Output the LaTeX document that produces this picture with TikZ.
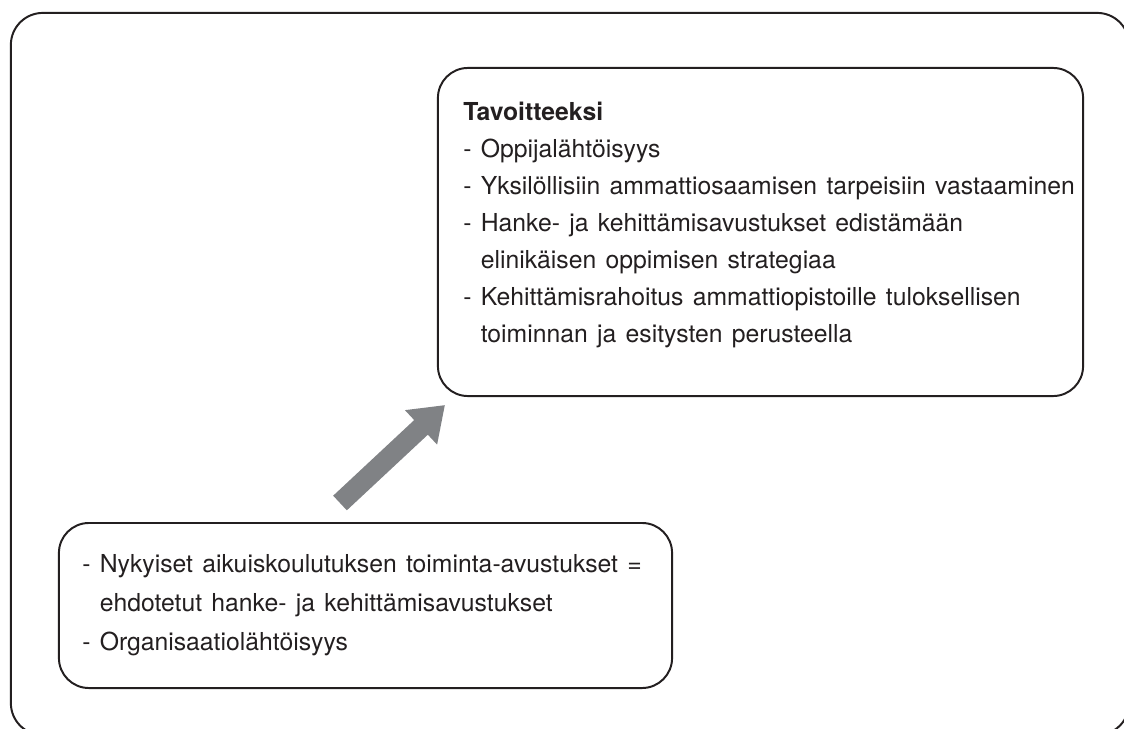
\documentclass[tikz,border=0pt]{standalone}
\usepackage{fontspec}
\setmainfont[WordSpace=1.35]{TeX Gyre Heros}
\usetikzlibrary{arrows.meta}

\definecolor{arrowgray}{HTML}{808285}
\definecolor{inkline}{HTML}{231F20}
\tikzset{
  panel/.style={draw=inkline, line width=1.4pt, rounded corners=0.75cm},
  textline/.style={anchor=base west, inner sep=0pt, text=inkline, font=\fontsize{17.6}{20}\selectfont},
  bigarrow/.style={draw=arrowgray, line width=0.5cm, -{Triangle[length=0.82cm,width=1.12cm]}}
}

\begin{document}
\begin{tikzpicture}[x=0.025cm, y=-0.025cm]
\useasboundingbox (0,0) rectangle (1124,729);

%% frames
\node[panel, rounded corners=0.8cm, minimum width=27.95cm, minimum height=18.05cm] (frame) at (570,374) {};
\node[panel, minimum width=16.125cm, minimum height=8.2cm] (goals) at (760.5,232) {};
\node[panel, minimum width=15.325cm, minimum height=4.125cm] (now) at (365.5,605.5) {};

%% goals text
\node[textline] (g0) at (463,120) {\bfseries Tavoitteeksi};
\node[textline] (g1) at (463,157) {- Oppijalähtöisyys};
\node[textline] (g2) at (463,194) {- Yksilöllisiin ammattiosaamisen tarpeisiin vastaaminen};
\node[textline] (g3) at (463,231) {- Hanke- ja kehittämisavustukset edistämään};
\node[textline] (g4) at (463,268) {\phantom{- }elinikäisen oppimisen strategiaa};
\node[textline] (g5) at (463,305) {- Kehittämisrahoitus ammattiopistoille tuloksellisen};
\node[textline] (g6) at (463,342) {\phantom{- }toiminnan ja esitysten perusteella};

%% present text
\node[textline] (n1) at (82,572) {- Nykyiset aikuiskoulutuksen toiminta-avustukset =};
\node[textline] (n2) at (82,611) {\phantom{- }ehdotetut hanke- ja kehittämisavustukset};
\node[textline] (n3) at (82,650) {- Organisaatiolähtöisyys};

%% arrow
\coordinate (tail) at (340,503);
\coordinate (tip) at (445,405);
\draw[bigarrow] (tail) -- (tip);

\end{tikzpicture}
\end{document}
